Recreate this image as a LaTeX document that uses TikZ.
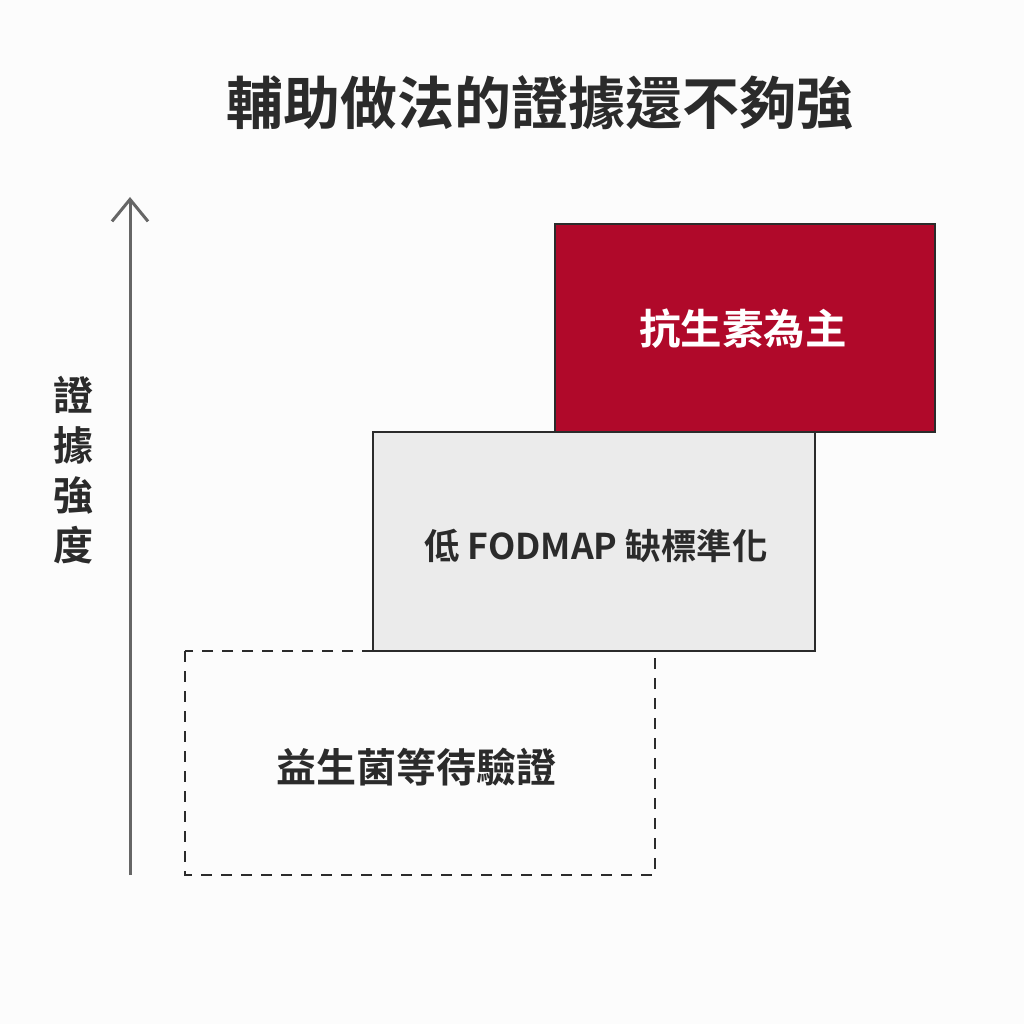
\documentclass[tikz,border=0pt]{standalone}
\usepackage{fontspec}
\newfontfamily\cjk{Noto Sans CJK TC}[BoldFont={* Bold}]
\usetikzlibrary{arrows.meta}
\definecolor{bg}{HTML}{FCFCFC}
\definecolor{ink}{HTML}{2B2B2B}
\definecolor{axis}{HTML}{666666}
\definecolor{redfill}{HTML}{B0092A}
\definecolor{grayfill}{HTML}{EBEBEB}
\tikzset{
  box/.style={draw=ink, line width=2pt, inner sep=0pt},
  lbl/.style={font=\cjk\bfseries, text=ink},
}
\begin{document}
\begin{tikzpicture}[x=1pt,y=-1pt]
\fill[bg] (0,0) rectangle (1024,1024);
\useasboundingbox (0,0) rectangle (1024,1024);
\node[lbl, font=\cjk\bfseries\fontsize{57}{60}\selectfont] (title) at (540,103) {輔助做法的證據還不夠強};
% axis
\coordinate (a0) at (130,875);
\coordinate (a1) at (130,197);
\draw[axis, line width=3pt, -{Straight Barb[length=22pt,width=36pt,line width=3pt]}] (a0) -- (a1);
\node[lbl, font=\cjk\bfseries\fontsize{40}{50}\selectfont, align=center] (ylab) at (73,470) {證\\據\\強\\度};
% boxes
\draw[box, dashed, dash pattern=on 11pt off 9pt, line width=1.6pt] (185,651) rectangle (655,875);
\node[lbl, font=\cjk\bfseries\fontsize{40}{44}\selectfont] (probio) at (416,767) {益生菌等待驗證};
\draw[box, fill=grayfill] (373,432) rectangle (815,651);
\node[lbl, font=\cjk\bfseries\fontsize{35.5}{40}\selectfont] (fodmap) at (596,546) {低 FODMAP 缺標準化};
\draw[box, fill=redfill] (555,224) rectangle (935,432);
\node[lbl, text=white, font=\cjk\bfseries\fontsize{41.5}{44}\selectfont] (anti) at (743,329) {抗生素為主};
\end{tikzpicture}
\end{document}
